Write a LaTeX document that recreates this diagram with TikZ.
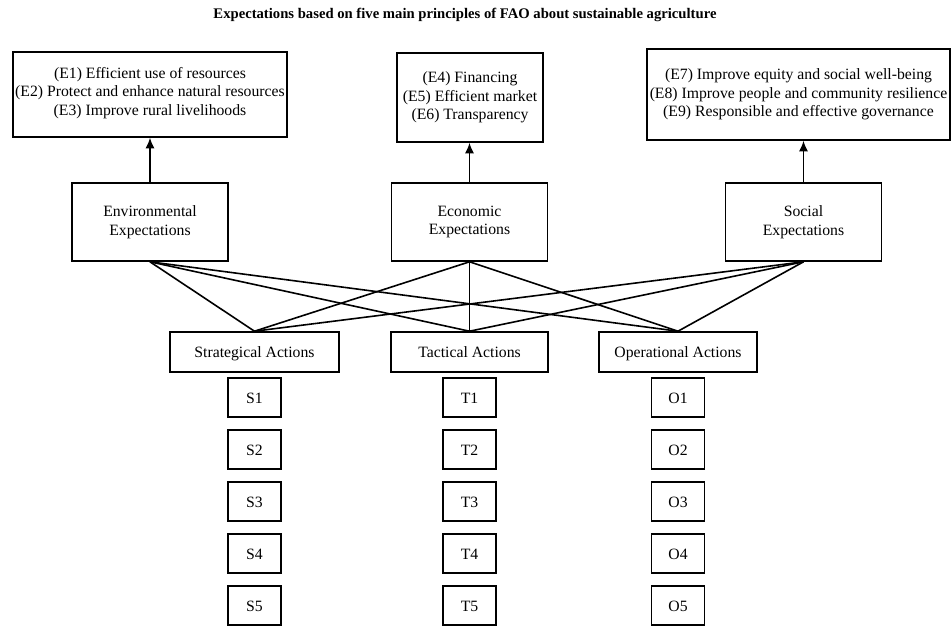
\documentclass[tikz,border=0pt]{standalone}
\usepackage{fontspec}
\setmainfont{Liberation Serif}
\usepackage{tikz}
\usetikzlibrary{arrows.meta}

\begin{document}
\begin{tikzpicture}[x=0.75pt,y=-0.75pt]
\tikzstyle{every node}=[font=\fontsize{11.8}{13.9}\selectfont]
\tikzstyle{box}=[draw,line width=1.2pt,align=center,inner sep=0pt]
\tikzstyle{expbox}=[box,minimum width=117pt,minimum height=58.5pt]
\tikzstyle{actbox}=[box,minimum height=30pt,text height=11pt,text depth=2.5pt]
\tikzstyle{itembox}=[box,minimum width=39.75pt,minimum height=29.25pt,text height=11pt,text depth=2.5pt]
\tikzstyle{uparrow}=[line width=1.2pt,-{Latex[length=8pt,width=7pt]}]
\useasboundingbox (0,0) rectangle (952,626);
\node[font=\fontsize{11}{13}\selectfont\bfseries] (title) at (465,15)
  {Expectations based on five main principles of FAO about sustainable agriculture};
% principles
\node[box,minimum width=205.5pt,minimum height=63.75pt] (fao1) at (150,94.5)
  {(E1) Efficient use of resources\\(E2) Protect and enhance natural resources\\(E3) Improve rural livelihoods\\[-8.7pt]};
\node[box,minimum width=109.5pt,minimum height=66.75pt] (fao2) at (470,97.5)
  {(E4) Financing\\(E5) Efficient market\\(E6) Transparency};
\node[box,minimum width=227.25pt,minimum height=68.25pt] (fao3) at (798.5,94.5)
  {(E7) Improve equity and social well-being\\(E8) Improve people and community resilience\\(E9) Responsible and effective governance};
% expectations
\node[expbox] (env) at (150,222) {Environmental\\Expectations};
\node[expbox] (eco) at (469.5,222) {Economic\\Expectations};
\node[expbox] (soc) at (803.5,222) {Social\\Expectations};
\draw[uparrow] (env.north) -- (env.north |- fao1.south);
\draw[uparrow] (eco.north) -- (eco.north |- fao2.south);
\draw[uparrow] (soc.north) -- (soc.north |- fao3.south);
% actions
\node[actbox,minimum width=126.75pt] (strat) at (254.5,352) {Strategical Actions};
\node[actbox,minimum width=117.75pt] (tact) at (469.5,352) {Tactical Actions};
\node[actbox,minimum width=118.5pt] (oper) at (678,352) {Operational Actions};
\foreach \e in {env,eco,soc}
  \foreach \a in {strat,tact,oper}
    \draw[line width=1.2pt] (\e.south) -- (\a.north);
% items
\foreach \i in {1,...,5} {
  \node[itembox] (s\i) at (254.5,345.5+52*\i) {S\i};
  \node[itembox] (t\i) at (469.5,345.5+52*\i) {T\i};
  \node[itembox] (o\i) at (678,345.5+52*\i) {O\i};
}
\end{tikzpicture}
\end{document}
